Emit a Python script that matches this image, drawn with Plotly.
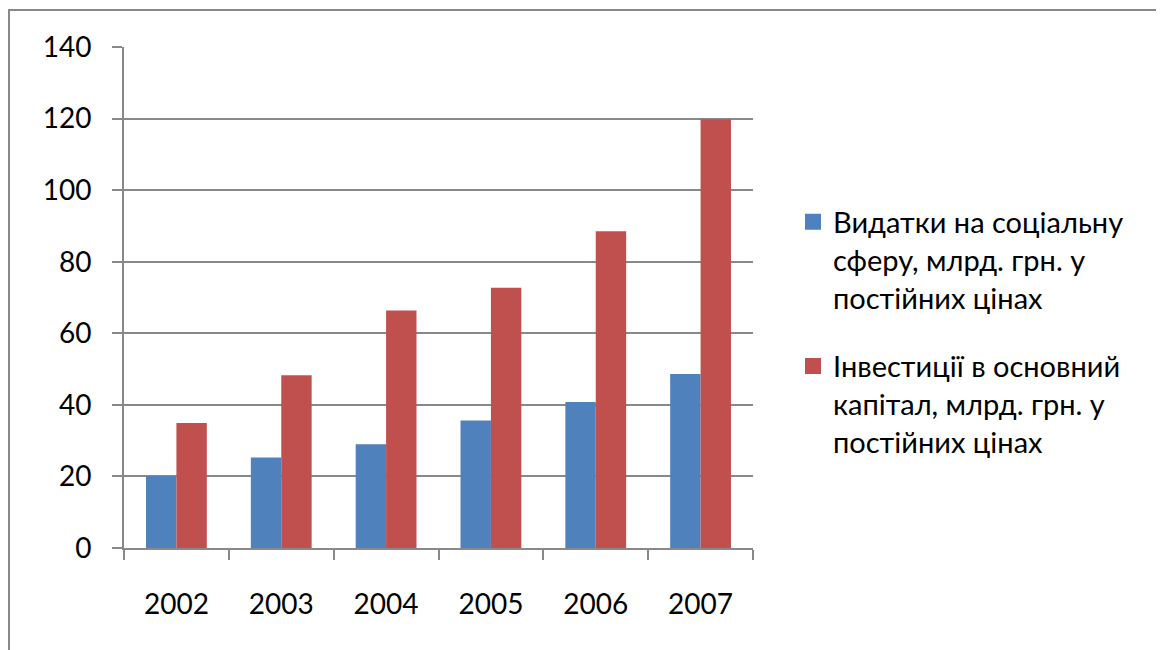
import plotly.graph_objects as go

years = ["2002", "2003", "2004", "2005", "2006", "2007"]
social = [20.1, 25.3, 29.0, 35.6, 40.8, 48.6]
invest = [34.9, 48.3, 66.4, 72.7, 88.5, 119.8]
name_social = "Видатки на соціальну<br>сферу, млрд. грн. у<br>постійних цінах"
name_invest = "Інвестиції в основний<br>капітал, млрд. грн. у<br>постійних цінах"
y_ticks = [0, 20, 40, 60, 80, 100, 120, 140]

BLUE = "#4F81BD"
RED = "#C0504D"
GRID = "#898989"
FONT = "Lato, 'Noto Sans', sans-serif"

fig = go.Figure()
fig.add_trace(go.Bar(x=years, y=social, marker=dict(color=BLUE, line=dict(width=0)),
                     showlegend=False))
fig.add_trace(go.Bar(x=years, y=invest, marker=dict(color=RED, line=dict(width=0)),
                     showlegend=False))
# legend entries
fig.add_trace(go.Scatter(x=[None], y=[None], mode="markers", name=name_social,
                         legendgroup="a",
                         marker=dict(symbol="square", size=16, color=BLUE)))
fig.add_trace(go.Scatter(x=[None], y=[None], mode="markers", name=name_invest,
                         legendgroup="b",
                         marker=dict(symbol="square", size=16, color=RED)))

OFF = 8  # browser body margin
W, H = 1164 - OFF, 650 - OFF
# plot area in page pixels
PL, PR, PT, PB = 124, 753, 47, 548
L, R, T, B = PL - OFF, (W + OFF) - PR, PT - OFF, (H + OFF) - PB
pw = PR - PL
ph = PB - PT

def px(x):
    return (x - PL) / pw

def py(y):
    return (PB - y) / ph

fig.update_layout(
    width=W, height=H,
    margin=dict(l=L, r=R, t=T, b=B, pad=0),
    paper_bgcolor="white", plot_bgcolor="white",
    font=dict(family=FONT, size=28, color="black"),
    barmode="group", bargap=0.42, bargroupgap=0,
    showlegend=True,
    legend=dict(x=px(793), xanchor="left", y=py(332), yanchor="middle",
                font=dict(size=29, family=FONT), tracegroupgap=28,
                valign="top",
                bgcolor="rgba(0,0,0,0)", itemwidth=30),
    xaxis=dict(type="category", showline=True, linecolor=GRID, linewidth=2,
               ticks="outside", tickson="boundaries", ticklen=10, tickwidth=2,
               tickcolor=GRID, showgrid=False, ticklabelstandoff=30,
               tickfont=dict(size=28)),
    yaxis=dict(range=[0, 140], tickvals=y_ticks, showline=True, linecolor=GRID,
               linewidth=2, ticks="outside", ticklen=10, tickwidth=2, tickcolor=GRID,
               showgrid=True, gridcolor=GRID, gridwidth=2, zeroline=False,
               ticklabelstandoff=15, tickfont=dict(size=28)),
    shapes=[
        dict(type="line", xref="paper", yref="paper", x0=px(8), x1=px(1164),
             y0=py(10), y1=py(10), line=dict(color=GRID, width=2)),
        dict(type="line", xref="paper", yref="paper", x0=px(9), x1=px(9),
             y0=py(10), y1=py(650), line=dict(color=GRID, width=2)),
    ],
)

fig.write_html("out.html")
